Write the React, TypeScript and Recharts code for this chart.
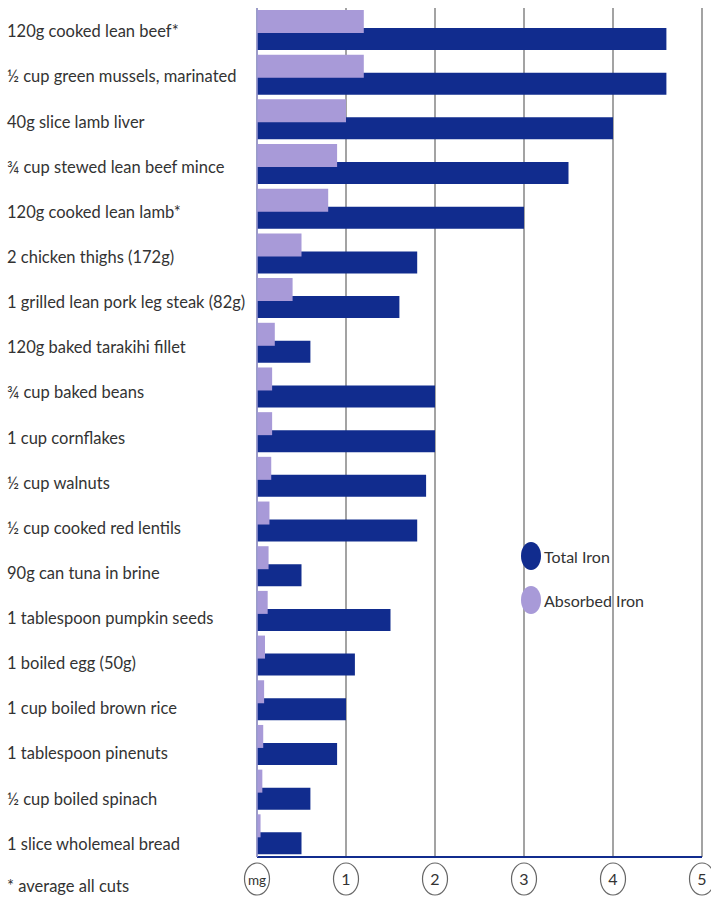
import React from "react";
import {
  BarChart,
  Bar,
  XAxis,
  YAxis,
  CartesianGrid,
  Legend,
} from "recharts";

const foods = [
  "120g cooked lean beef*",
  "½ cup green mussels, marinated",
  "40g slice lamb liver",
  "¾ cup stewed lean beef mince",
  "120g cooked lean lamb*",
  "2 chicken thighs (172g)",
  "1 grilled lean pork leg steak (82g)",
  "120g baked tarakihi fillet",
  "¾ cup baked beans",
  "1 cup cornflakes",
  "½ cup walnuts",
  "½ cup cooked red lentils",
  "90g can tuna in brine",
  "1 tablespoon pumpkin seeds",
  "1 boiled egg (50g)",
  "1 cup boiled brown rice",
  "1 tablespoon pinenuts",
  "½ cup boiled spinach",
  "1 slice wholemeal bread",
];

const totalIron = [
  4.6, 4.6, 4.0, 3.5, 3.0, 1.8, 1.6, 0.6, 2.0, 2.0, 1.9, 1.8, 0.5, 1.5, 1.1,
  1.0, 0.9, 0.6, 0.5,
];

const absorbedIron = [
  1.2, 1.2, 1.0, 0.9, 0.8, 0.5, 0.4, 0.2, 0.17, 0.17, 0.16, 0.14, 0.13, 0.12,
  0.09, 0.08, 0.07, 0.06, 0.04,
];

const xTicks = [0, 1, 2, 3, 4, 5];
const footnote = "* average all cuts";

const NAVY = "#112c8e";
const LAVENDER = "#a89ad8";
const TEXT = "#333333";
const FONT = "Lato, 'Noto Sans', sans-serif";

const data = foods.map((name, i) => ({
  name,
  total: totalIron[i],
  absorbed: absorbedIron[i],
}));

// the printed labels sit on a slightly wider pitch than the bars
const FoodTick = ({ y, payload, index }: any) => (
  <text
    x={7}
    y={y}
    dy={7 + (index ?? payload.index ?? 0) * 0.45}
    textAnchor="start"
    fill={TEXT}
    fontFamily={FONT}
    fontSize={16.5}
  >
    {payload.value}
  </text>
);

const MgTick = ({ x, y, payload }: any) => (
  <g>
    <ellipse
      cx={x}
      cy={y + 22}
      rx={12.5}
      ry={16}
      fill="#fff"
      stroke="#666"
      strokeWidth={1.2}
    />
    <text
      x={x}
      y={y + 28}
      textAnchor="middle"
      fill={TEXT}
      fontFamily={FONT}
      fontSize={payload.value === 0 ? 13.5 : 16}
    >
      {payload.value === 0 ? "mg" : payload.value}
    </text>
  </g>
);

const IronLegend = ({ payload }: any) => {
  const items = [...(payload || [])].reverse();
  return (
    <div style={{ fontFamily: FONT, fontSize: 16, color: TEXT }}>
      {items.map((item: any) => (
        <div
          key={item.value}
          style={{ display: "flex", alignItems: "center", height: 44 }}
        >
          <svg width={22} height={30} style={{ marginRight: 2 }}>
            <ellipse cx={11} cy={15} rx={10} ry={14} fill={item.color} />
          </svg>
          <span>{item.value}</span>
        </div>
      ))}
    </div>
  );
};

const App = () => {
  return (
    <div
      style={{
        position: "fixed",
        left: 0,
        top: 0,
        width: 711,
        height: 897,
        overflow: "hidden",
        background: "#fff",
      }}
    >
      <BarChart
        width={711}
        height={897}
        data={data}
        layout="vertical"
        margin={{ top: 8, right: 9, bottom: 0, left: 0 }}
        barGap={-5}
      >
        <CartesianGrid
          horizontal={false}
          vertical
          stroke="#858585"
          strokeWidth={1.5}
        />
        <XAxis
          type="number"
          domain={[0, 5]}
          ticks={xTicks}
          height={40}
          tick={<MgTick />}
          tickLine={false}
          tickSize={0}
          tickMargin={0}
          axisLine={{ stroke: NAVY, strokeWidth: 2 }}
          interval={0}
        />
        <YAxis
          type="category"
          dataKey="name"
          width={257}
          tick={<FoodTick />}
          tickLine={false}
          axisLine={{ stroke: "#9a9ad4", strokeWidth: 1.5 }}
          interval={0}
        />
        <Legend
          layout="horizontal"
          verticalAlign="middle"
          align="center"
          wrapperStyle={{ top: 534, left: 520, width: "auto" }}
          content={<IronLegend />}
        />
        <Bar
          dataKey="absorbed"
          name="Absorbed Iron"
          fill={LAVENDER}
          barSize={23}
          zIndex={2}
          isAnimationActive={false}
        />
        <Bar
          dataKey="total"
          name="Total Iron"
          fill={NAVY}
          barSize={22}
          zIndex={1}
          isAnimationActive={false}
        />
      </BarChart>
      <div
        style={{
          position: "absolute",
          left: 7,
          top: 877,
          fontFamily: FONT,
          fontSize: 16.5,
          lineHeight: "18px",
          color: TEXT,
        }}
      >
        {footnote}
      </div>
    </div>
  );
};

export default App;
